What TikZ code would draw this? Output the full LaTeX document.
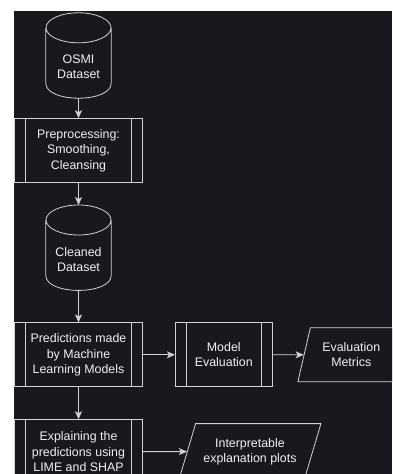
\documentclass[tikz,border=0pt]{standalone}
\usepackage{fontspec}
\setmainfont{Liberation Sans}
\usetikzlibrary{arrows.meta, positioning, shapes.geometric}
\definecolor{flowbg}{HTML}{19181E}
\definecolor{flowline}{HTML}{D2D2D2}
\definecolor{flowtext}{HTML}{F0F0F0}
\newcommand\flowfont{\fontsize{12.4}{15.2}\selectfont}

\begin{document}
\begin{tikzpicture}[
    x=1pt, y=-1pt,
    >={Stealth[length=8pt, width=7pt, inset=2pt]},
    % node = cylinder body, cap drawn above it (fill = background, so lines only)
    store/.style={rectangle, minimum width=65pt, minimum height=62pt, inner sep=0pt, text=flowtext, align=center, font=\flowfont,
      append after command={\pgfextra{\let\storenode\tikzlastnode
        \draw[flowline, line width=0.8pt]
        ([yshift=8pt]\storenode.north) ellipse [x radius=32.5pt, y radius=15pt]
        ([yshift=8pt]\storenode.north west) -- ([yshift=15pt]\storenode.south west)
        .. controls ([yshift=-5pt]\storenode.south west) and ([yshift=-5pt]\storenode.south east) .. ([yshift=15pt]\storenode.south east)
        -- ([yshift=8pt]\storenode.north east);}}},
    procbox/.style={draw=flowline, line width=0.8pt, fill=flowbg, minimum width=128pt, minimum height=64pt, inner sep=0pt, text=flowtext, align=center, font=\flowfont,
      path picture={\draw[flowline, line width=0.8pt] ([xshift=11pt]path picture bounding box.north west) -- ([xshift=11pt]path picture bounding box.south west) ([xshift=-11pt]path picture bounding box.north east) -- ([xshift=-11pt]path picture bounding box.south east);}},
    iobox/.style={trapezium, trapezium left angle=#1, trapezium right angle=180-#1, trapezium stretches=true, draw=flowline, line width=0.8pt, fill=flowbg, inner sep=0pt, text=flowtext, align=center, font=\flowfont},
    arrow/.style={->, draw=flowline, line width=0.8pt},
]
\useasboundingbox (0,0) rectangle (392,474);
\clip (0,0) rectangle (392,474);
\fill[white] (0,0) rectangle (392,474);
\fill[flowbg] (14,11) rectangle (392,474);

% Main column
\node[store] (osmi) at (78.5,67) {OSMI\\Dataset};
\node[procbox, below=20pt of osmi] (prep) {Preprocessing:\\Smoothing,\\Cleansing};
\node[store, below=45pt of prep] (cleaned) {Cleaned\\Dataset};
\node[procbox, below=32pt of cleaned] (predict) {Predictions made\\by Machine\\Learning Models};
\node[procbox, below=32pt of predict] (explain) {Explaining the\\predictions using\\LIME and SHAP};

% Right side
\node[procbox, minimum width=97pt, right=32pt of predict] (evalmodel) {Model\\Evaluation};
\node[iobox=70, minimum width=107pt, minimum height=54pt, right=31pt of evalmodel] (metrics) {Evaluation\\Metrics};
\node[iobox=62, minimum width=142pt, minimum height=56pt, right=44pt of explain] (plots) {Interpretable\\explanation plots};

% Arrows
\draw[arrow] (osmi) -- (prep);
\draw[arrow] (prep) -- ([yshift=23pt]cleaned.north);
\draw[arrow] (cleaned) -- (predict);
\draw[arrow] (predict) -- (explain);
\draw[arrow] (predict) -- (evalmodel);
\draw[arrow] (evalmodel) -- (metrics);
\draw[arrow] (explain) -- (plots);

\end{tikzpicture}
\end{document}
